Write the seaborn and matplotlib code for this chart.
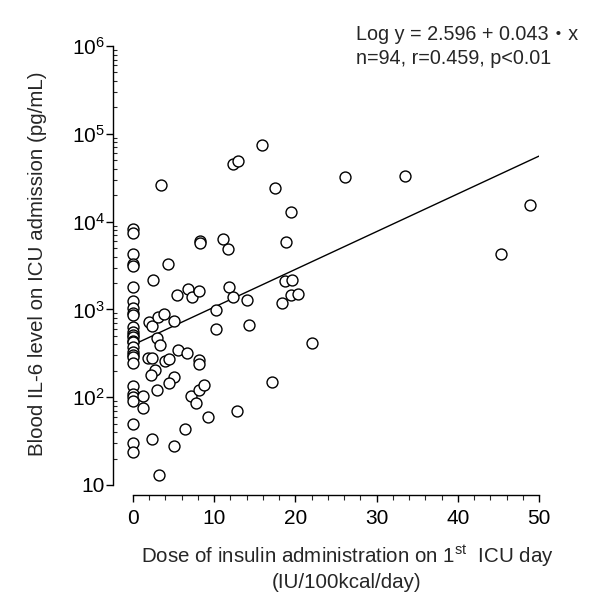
import numpy as np
import pandas as pd
import matplotlib
matplotlib.use("Agg")
import matplotlib.pyplot as plt
import seaborn as sns
from matplotlib.ticker import LogLocator, MultipleLocator, FixedLocator, NullFormatter

# ---- data ----
dose_zero_il6 = [8300, 7400, 4300, 3300, 3150, 1780, 1240, 1050, 900, 860, 625, 550,
                 510, 480, 440, 420, 370, 325, 300, 285, 245, 133, 108, 100, 90, 50, 30, 24]

dose_nonzero = [3.5, 12.3, 12.9, 15.9, 17.5, 19.5, 26.1, 33.5, 48.9, 45.3,
                8.2, 8.2, 11.1, 11.7, 18.8, 4.3, 2.5, 5.4, 6.8, 7.3,
                8.1, 11.8, 12.3, 14.1, 18.7, 19.6, 19.4, 20.3, 18.3, 10.2,
                10.2, 14.3, 2.0, 2.3, 3.1, 3.8, 5.0, 2.9, 3.3, 5.5,
                6.6, 1.8, 2.4, 4.0, 4.4, 8.1, 8.1, 2.7, 2.2, 5.1,
                4.4, 2.9, 1.2, 1.2, 7.1, 7.7, 8.1, 8.8, 17.1, 12.8,
                9.2, 6.4, 2.4, 5.1, 3.2, 22.0]
il6_nonzero = [26000, 45000, 49000, 74000, 24400, 13000, 32000, 33000, 15500, 4300,
               6000, 5750, 6400, 4900, 5850, 3300, 2140, 1450, 1700, 1400,
               1630, 1780, 1400, 1280, 2130, 2160, 1450, 1500, 1180, 980,
               600, 670, 725, 650, 825, 885, 745, 470, 390, 345,
               316, 280, 280, 260, 270, 265, 240, 205, 180, 170,
               144, 122, 102, 76, 104, 86, 122, 138, 148, 70,
               60, 44, 33, 28, 13, 413]

intercept = 2.596
slope = 0.043
line_x = [0, 50]

x_ticks = [0, 10, 20, 30, 40, 50]
y_ticks = [10, 1e2, 1e3, 1e4, 1e5, 1e6]
y_ticklabels = ["10", "$10^{2}$", "$10^{3}$", "$10^{4}$", "$10^{5}$", "$10^{6}$"]

dose = [0.0] * len(dose_zero_il6) + dose_nonzero
il6 = dose_zero_il6 + il6_nonzero
df = pd.DataFrame({"dose": dose, "il6": il6})
line_df = pd.DataFrame({"x": line_x,
                        "y": [10 ** (intercept + slope * v) for v in line_x]})

# ---- style ----
sns.set_style("white")
plt.rcParams["font.family"] = ["Liberation Sans", "Noto Sans CJK JP", "DejaVu Sans"]
plt.rcParams["mathtext.default"] = "regular"

fig = plt.figure(figsize=(6.0, 6.13), dpi=100)
ax = fig.add_axes([133 / 600, 128 / 613, 406 / 600, 439 / 613])

sns.lineplot(data=line_df, x="x", y="y", ax=ax, color="black", lw=1.0)
sns.scatterplot(data=df, x="dose", y="il6", ax=ax, s=62, facecolor="white",
                edgecolor="black", linewidth=1.0, clip_on=False, zorder=3)

ax.set_yscale("log")
ax.set_xlim(0, 50)
ax.set_ylim(10, 1e6)

ax.xaxis.set_major_locator(FixedLocator(x_ticks))
ax.xaxis.set_minor_locator(MultipleLocator(2))
ax.set_xticklabels([str(t) for t in x_ticks])
ax.yaxis.set_major_locator(FixedLocator(y_ticks))
ax.set_yticklabels(y_ticklabels)
ax.yaxis.set_minor_locator(LogLocator(base=10, subs=np.arange(2, 10), numticks=20))
ax.yaxis.set_minor_formatter(NullFormatter())

for s in ["top", "right"]:
    ax.spines[s].set_visible(False)
ax.spines["left"].set_position(("outward", 14.4))
ax.spines["bottom"].set_position(("outward", 7.2))
for s in ["left", "bottom"]:
    ax.spines[s].set_linewidth(1.0)
    ax.spines[s].set_color("black")

ax.tick_params(axis="both", which="both", bottom=True, left=True, top=False, right=False)
ax.tick_params(axis="y", which="major", direction="out", length=5, width=1.0,
               labelsize=15, colors="black", pad=1)
ax.tick_params(axis="x", which="major", direction="out", length=5, width=1.0,
               labelsize=15, colors="black", pad=5)
ax.tick_params(axis="y", which="minor", direction="in", length=3, width=0.8)
ax.tick_params(axis="x", which="minor", direction="out", length=3.5, width=0.8)

ax.set_xlabel("Dose of insulin administration on 1$^{st}$  ICU day\n(IU/100kcal/day)",
              fontsize=14.8, linespacing=1.25)
ax.set_ylabel("Blood IL-6 level on ICU admission (pg/mL)", fontsize=14.8)
ax.xaxis.set_label_coords(0.527, -0.189)
ax.yaxis.set_label_coords(-0.236, 0.505)
ax.xaxis.label.set_va("center")
ax.yaxis.label.set_va("center")

fig.text(356 / 600, 1 - 35 / 613, "Log y = 2.596 + 0.043\u30fbx", fontsize=14.2,
         ha="left", va="center")
fig.text(356 / 600, 1 - 58 / 613, "n=94, r=0.459, p<0.01", fontsize=14.2,
         ha="left", va="center")

fig.savefig("out.png", dpi=100, facecolor="white")
